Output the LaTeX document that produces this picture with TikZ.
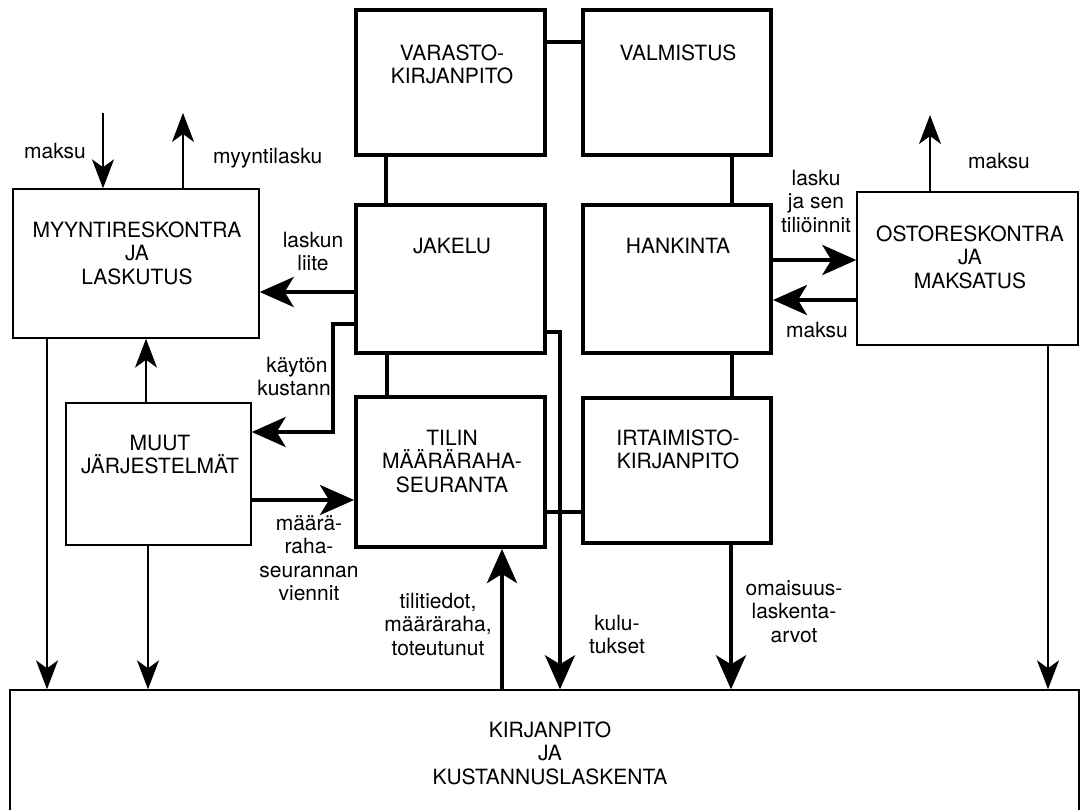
\documentclass[tikz,border=0pt]{standalone}
\usepackage{fontspec}
\setmainfont{TeX Gyre Heros}
\usetikzlibrary{arrows.meta}
\newcommand\mlines[1]{\vtop{\baselineskip=23.5pt\lineskiplimit=-20pt\lineskip=0pt\halign{\hfil##\hfil\cr#1\crcr}}}
\tikzset{
  every node/.style={font=\fontsize{21}{23.5}\selectfont, inner sep=0pt},
  tbox/.style={draw, rectangle, line width=4pt},
  nbox/.style={draw, rectangle, line width=1.4pt},
  tline/.style={line width=4pt},
  tarrow/.style={line width=4pt, -{Stealth[length=34pt,width=30pt,inset=9pt]}},
  narrow/.style={line width=1.3pt, -{Stealth[length=29pt,width=22pt,inset=8pt]}},
  lbl/.style={anchor=base}
}
\begin{document}
\begin{tikzpicture}[x=1pt,y=-1pt]
\useasboundingbox (0,0) rectangle (1083,809);
\clip (0,0) rectangle (1083,809);
% thick boxes
\node[tbox, minimum width=189pt, minimum height=145pt] (varasto) at (450.5,82.5) {};
\node[tbox, minimum width=188pt, minimum height=145pt] (valmistus) at (677,82.5) {};
\node[tbox, minimum width=189pt, minimum height=148pt] (jakelu) at (450.5,279) {};
\node[tbox, minimum width=188pt, minimum height=148pt] (hankinta) at (677,279) {};
\node[tbox, minimum width=189pt, minimum height=150pt] (tilin) at (450.5,472) {};
\node[tbox, minimum width=188pt, minimum height=145pt] (irtaimisto) at (677,470.5) {};
% thin boxes
\node[nbox, minimum width=246pt, minimum height=149pt] (myynti) at (136,263.5) {};
\node[nbox, minimum width=185pt, minimum height=142pt] (muut) at (158.5,474) {};
\node[nbox, minimum width=221pt, minimum height=153pt] (osto) at (967.5,268.5) {};
\node[nbox, minimum width=1069pt, minimum height=200pt] (kirj) at (544.5,790) {};
% box texts
\node[lbl] (tvarasto) at (452,60) {\mlines{VARASTO-\cr KIRJANPITO}};
\node[lbl] (tvalmistus) at (678,60) {VALMISTUS};
\node[lbl] (tjakelu) at (452,253) {JAKELU};
\node[lbl] (thankinta) at (678,253) {HANKINTA};
\node[lbl] (ttilin) at (452,445) {\mlines{TILIN\cr MÄÄRÄRAHA-\cr SEURANTA}};
\node[lbl] (tirt) at (678,445) {\mlines{IRTAIMISTO-\cr KIRJANPITO}};
\node[lbl] (tmyynti) at (137,237) {\mlines{MYYNTIRESKONTRA\cr JA\cr LASKUTUS}};
\node[lbl] (tosto) at (970,241) {\mlines{OSTORESKONTRA\cr JA\cr MAKSATUS}};
\node[lbl] (tmuut) at (160,450) {\mlines{MUUT\cr JÄRJESTELMÄT}};
\node[lbl] (tkirj) at (550,737) {\mlines{KIRJANPITO\cr JA\cr KUSTANNUSLASKENTA}};
% free ends
\coordinate (maksuin) at (103,113);
\coordinate (myyntiout) at (183,113);
\coordinate (ostoout) at (930,115);
\coordinate (k1) at (333,324);
\coordinate (k2) at (333,432);
\coordinate (ku) at (560,332);
% thick connectors between boxes
\draw[tline] (varasto.east |- 0,42) -- (valmistus.west |- 0,42);
\draw[tline] (varasto.south -| 386,0) -- (jakelu.north -| 386,0);
\draw[tline] (valmistus.south -| 732,0) -- (hankinta.north -| 732,0);
\draw[tline] (jakelu.south -| 387,0) -- (tilin.north -| 387,0);
\draw[tline] (hankinta.south -| 732,0) -- (irtaimisto.north -| 732,0);
\draw[tline] (tilin.east |- 0,512) -- (irtaimisto.west |- 0,512);
% thick arrows
\draw[tarrow] (jakelu.west |- 0,292) -- (myynti.east |- 0,292);
\draw[tarrow] (jakelu.west |- k1) -- (k1) -- (k2) -- (muut.east |- k2);
\draw[tarrow] (jakelu.east |- ku) -- (ku) -- (kirj.north -| ku);
\draw[tarrow] (muut.east |- 0,500) -- (tilin.west |- 0,500);
\draw[tarrow] (kirj.north -| 502,0) -- (tilin.south -| 502,0);
\draw[tarrow] (irtaimisto.south -| 731,0) -- (kirj.north -| 731,0);
\draw[tarrow] (hankinta.east |- 0,260) -- (osto.west |- 0,260);
\draw[tarrow] (osto.west |- 0,300) -- (hankinta.east |- 0,300);
% thin arrows
\draw[narrow] (maksuin) -- (myynti.north -| maksuin);
\draw[narrow] (myynti.north -| myyntiout) -- (myyntiout);
\draw[narrow] (osto.north -| ostoout) -- (ostoout);
\draw[narrow] (muut.north -| 146,0) -- (myynti.south -| 146,0);
\draw[narrow] (myynti.south -| 47,0) -- (kirj.north -| 47,0);
\draw[narrow] (muut.south -| 148,0) -- (kirj.north -| 148,0);
\draw[narrow] (osto.south -| 1048,0) -- (kirj.north -| 1048,0);
% labels
\node[lbl] (lmaksu1) at (55,158) {maksu};
\node[anchor=base west] (lmyynti) at (213,163) {myyntilasku};
\node[lbl] (lmaksu2) at (999,168) {maksu};
\node[lbl] (llasku) at (816,185) {\mlines{lasku\cr ja sen\cr tiliöinnit}};
\node[lbl] (lmaksu3) at (817,337) {maksu};
\node[lbl] (lliite) at (313,247) {\mlines{laskun\cr liite}};
\node[lbl] (lkayt) at (297,372) {\mlines{käytön\cr kustann.}};
\node[lbl] (lmaara) at (309,530) {\mlines{määrä-\cr raha-\cr seurannan\cr viennit}};
\node[lbl] (ltili) at (438,608) {\mlines{tilitiedot,\cr määräraha,\cr toteutunut}};
\node[lbl] (lkulu) at (617,630) {\mlines{kulu-\cr tukset}};
\node[lbl] (lomai) at (794,595) {\mlines{omaisuus-\cr laskenta-\cr arvot}};
\end{tikzpicture}
\end{document}
